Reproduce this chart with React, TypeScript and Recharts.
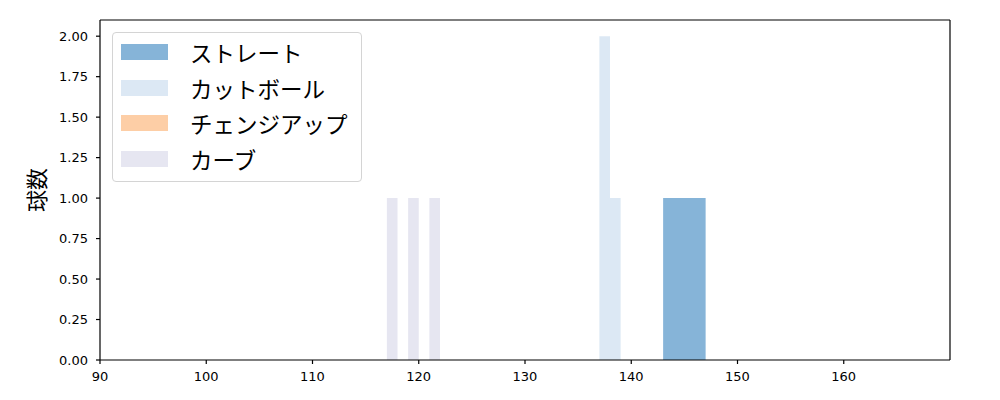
import React from 'react';
import { ComposedChart, XAxis, YAxis, ReferenceArea, ReferenceLine, Scatter } from 'recharts';

// Histogram bins: [start, end, count]
const straightBins: [number, number, number][] = [[143, 147, 1]];
const cutterBins: [number, number, number][] = [[137, 138, 2], [138, 139, 1]];
const changeupBins: [number, number, number][] = [];
const curveBins: [number, number, number][] = [[117, 118, 1], [119, 120, 1], [121, 122, 1]];

const seriesNames = ['ストレート', 'カットボール', 'チェンジアップ', 'カーブ'];
const seriesColors = ['#86b4d8', '#dce8f4', '#fdcea6', '#e6e6f1'];
const seriesBins = [straightBins, cutterBins, changeupBins, curveBins];

const xTicks = [90, 100, 110, 120, 130, 140, 150, 160];
const yTicks = [0, 0.25, 0.5, 0.75, 1.0, 1.25, 1.5, 1.75, 2.0];
const xDomain: [number, number] = [90, 170];
const yDomain: [number, number] = [0, 2.1];

const anchorData = [{ x: 90, y: 0 }, { x: 170, y: 2.1 }];

const tickStyle = { fontFamily: 'DejaVu Sans', fontSize: 13, fill: '#000' };

export default function App() {
  return (
    <div style={{ position: 'absolute', left: 0, top: 0, width: 1000, height: 400, background: '#fff' }}>
      <ComposedChart width={1000} height={400} data={anchorData} margin={{ top: 20, right: 50, bottom: 0, left: 0 }}>
        <XAxis
          dataKey="x"
          type="number"
          domain={xDomain}
          ticks={xTicks}
          allowDataOverflow
          height={40}
          tickSize={4}
          tickMargin={8}
          tick={tickStyle}
          axisLine={{ stroke: '#000', strokeWidth: 1.2 }}
          tickLine={{ stroke: '#000', strokeWidth: 1.2 }}
        />
        <YAxis
          dataKey="y"
          type="number"
          domain={yDomain}
          ticks={yTicks}
          allowDataOverflow
          width={100}
          tickSize={4}
          tickMargin={8}
          tick={tickStyle}
          tickFormatter={(v: number) => v.toFixed(2)}
          axisLine={{ stroke: '#000', strokeWidth: 1.2 }}
          tickLine={{ stroke: '#000', strokeWidth: 1.2 }}
        />
        <Scatter dataKey="y" fill="none" isAnimationActive={false} shape={() => null} />
        {seriesBins.map((bins, si) =>
          bins.map((b, bi) => (
            <ReferenceArea
              key={`${si}-${bi}`}
              x1={b[0]}
              x2={b[1]}
              y1={0}
              y2={b[2]}
              fill={seriesColors[si]}
              fillOpacity={1}
              stroke="none"
              ifOverflow="visible"
            />
          ))
        )}
        <ReferenceLine y={2.1} stroke="#000" strokeWidth={1.2} ifOverflow="visible" />
        <ReferenceLine x={170} stroke="#000" strokeWidth={1.2} ifOverflow="visible" />
      </ComposedChart>
      <div
        style={{
          position: 'absolute',
          left: 10,
          top: 190,
          width: 50,
          height: 26,
          marginTop: -13,
          transform: 'rotate(-90deg)',
          fontFamily: '"Noto Sans CJK JP"',
          fontSize: 22,
          lineHeight: '26px',
          textAlign: 'center',
          color: '#000',
        }}
      >
        球数
      </div>
      <div
        style={{
          position: 'absolute',
          left: 112,
          top: 32,
          width: 250,
          height: 150,
          border: '1px solid #d4d4d4',
          borderRadius: 4,
          background: 'rgba(255,255,255,0.8)',
          boxSizing: 'border-box',
        }}
      >
        {seriesNames.map((name, i) => (
          <div key={name} style={{ position: 'absolute', left: 8, top: 11 + i * 35.7, height: 16, display: 'flex', alignItems: 'center' }}>
            <div style={{ width: 47, height: 16, background: seriesColors[i] }} />
            <div
              style={{
                marginLeft: 22,
                fontFamily: '"Noto Sans CJK JP"',
                fontSize: 22.5,
                lineHeight: '22px',
                color: '#000',
                whiteSpace: 'nowrap',
              }}
            >
              {name}
            </div>
          </div>
        ))}
      </div>
    </div>
  );
}
